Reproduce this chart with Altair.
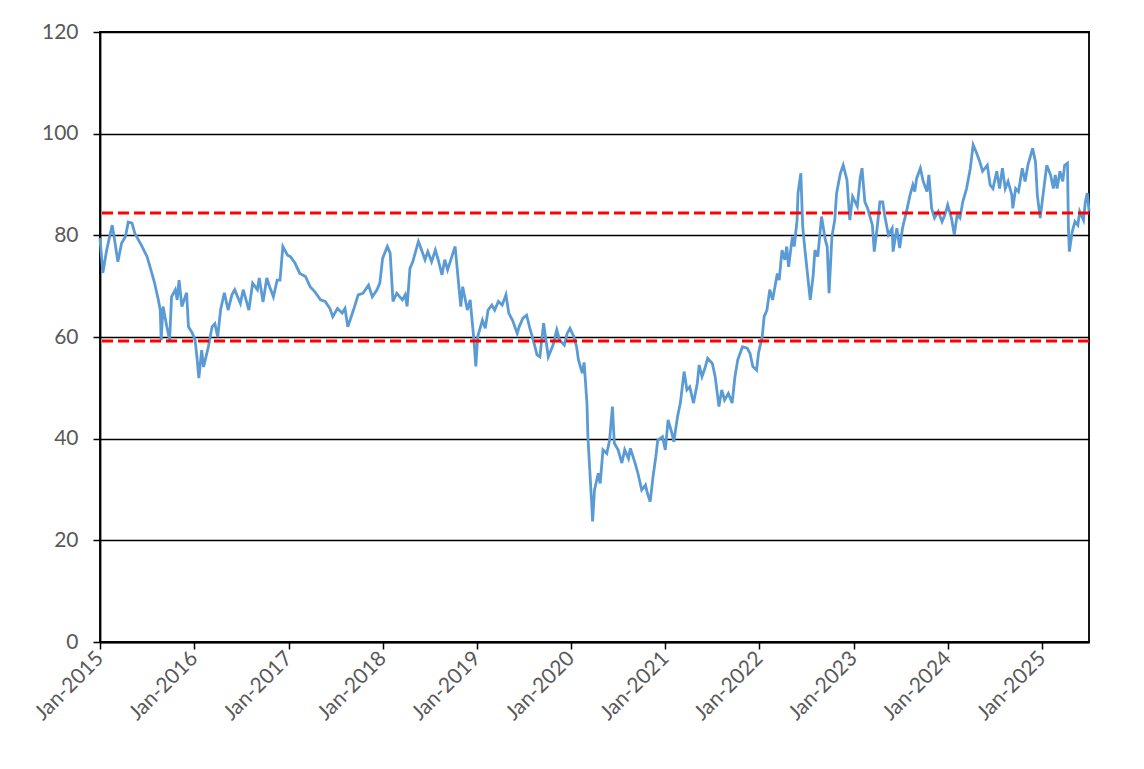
import altair as alt
import pandas as pd

# decimal-year positions and values
t = [2015.00, 2015.03, 2015.07, 2015.11, 2015.13, 2015.15, 2015.19, 2015.23, 2015.27, 2015.30,
     2015.34, 2015.37, 2015.45, 2015.50, 2015.55, 2015.58, 2015.62, 2015.64, 2015.65, 2015.67,
     2015.71, 2015.74, 2015.76, 2015.80, 2015.82, 2015.84, 2015.87, 2015.92, 2015.94, 2015.98,
     2016.01, 2016.03, 2016.05, 2016.08, 2016.10, 2016.15, 2016.19, 2016.22, 2016.25, 2016.28,
     2016.32, 2016.36, 2016.40, 2016.43, 2016.49, 2016.52, 2016.58,
     2016.62, 2016.67, 2016.69, 2016.73, 2016.77, 2016.80, 2016.84, 2016.88, 2016.91, 2016.94,
     2016.99, 2017.02, 2017.07, 2017.12, 2017.18, 2017.23, 2017.28, 2017.34, 2017.39, 2017.44,
     2017.47, 2017.52, 2017.57, 2017.60, 2017.63, 2017.69, 2017.74, 2017.79, 2017.85, 2017.89,
     2017.94, 2017.97, 2018.00, 2018.05, 2018.08, 2018.11, 2018.15, 2018.21, 2018.24, 2018.26,
     2018.29, 2018.32, 2018.38,
     2018.40, 2018.45, 2018.48, 2018.52, 2018.56, 2018.59, 2018.63, 2018.66, 2018.69, 2018.74,
     2018.77, 2018.80, 2018.83, 2018.85, 2018.90, 2018.93, 2018.95, 2018.97, 2018.99, 2019.01,
     2019.06, 2019.09, 2019.12, 2019.16, 2019.19, 2019.23, 2019.27, 2019.31, 2019.34, 2019.38,
     2019.43, 2019.45, 2019.49, 2019.53, 2019.56, 2019.60, 2019.64, 2019.67, 2019.71, 2019.76,
     2019.81, 2019.85, 2019.88, 2019.93, 2019.96, 2019.99, 2020.03, 2020.06, 2020.08, 2020.12,
     2020.14,
     2020.17, 2020.18, 2020.20, 2020.22, 2020.23, 2020.25, 2020.29, 2020.31, 2020.34, 2020.38,
     2020.41, 2020.44, 2020.46, 2020.50, 2020.54, 2020.57, 2020.61, 2020.63, 2020.68, 2020.71,
     2020.75, 2020.79, 2020.81, 2020.84, 2020.87, 2020.90, 2020.92, 2020.97, 2021.00, 2021.03,
     2021.07, 2021.09, 2021.13, 2021.16, 2021.20, 2021.23, 2021.26, 2021.30, 2021.34, 2021.36,
     2021.39, 2021.42, 2021.45, 2021.50, 2021.53,
     2021.57, 2021.60, 2021.63, 2021.67, 2021.71, 2021.74, 2021.77, 2021.82, 2021.87, 2021.90,
     2021.93, 2021.97, 2021.99, 2022.03, 2022.05, 2022.08, 2022.11, 2022.14, 2022.19, 2022.21,
     2022.24, 2022.27, 2022.29, 2022.31, 2022.35, 2022.37, 2022.40, 2022.41, 2022.44, 2022.46,
     2022.48, 2022.51, 2022.54, 2022.57, 2022.59, 2022.62, 2022.66, 2022.70, 2022.72, 2022.74,
     2022.77, 2022.80, 2022.82, 2022.86, 2022.89, 2022.93, 2022.96, 2022.99, 2023.04,
     2023.07, 2023.09, 2023.12, 2023.15, 2023.20, 2023.22, 2023.25, 2023.28, 2023.31, 2023.33,
     2023.37, 2023.41, 2023.42, 2023.46, 2023.49, 2023.52, 2023.57, 2023.60, 2023.63, 2023.65,
     2023.67, 2023.71, 2023.74, 2023.78, 2023.80, 2023.83, 2023.86, 2023.90, 2023.94, 2023.97,
     2024.00, 2024.04, 2024.07, 2024.10, 2024.13, 2024.16, 2024.20, 2024.24, 2024.27, 2024.30,
     2024.34, 2024.37, 2024.42, 2024.45, 2024.48, 2024.52, 2024.55, 2024.58, 2024.61, 2024.64,
     2024.68, 2024.69, 2024.72, 2024.75, 2024.79, 2024.82, 2024.85, 2024.88, 2024.90, 2024.93,
     2024.95, 2024.98, 2025.01, 2025.05, 2025.09, 2025.12, 2025.14, 2025.16, 2025.19, 2025.22,
     2025.24, 2025.27, 2025.28, 2025.29, 2025.32, 2025.35, 2025.38, 2025.40, 2025.44, 2025.46,
     2025.48, 2025.50]

v = [79.5, 72.6, 77.0, 80.4, 82.0, 79.7, 74.8, 78.5, 79.7, 82.6,
     82.4, 80.4, 77.7, 75.8, 72.6, 70.6, 67.3, 65.3, 59.4, 66.0,
     62.0, 59.4, 67.9, 69.3, 67.3, 71.2, 66.0, 68.7, 62.0, 60.8,
     59.4, 56.0, 51.9, 57.4, 54.1, 58.0, 62.0, 62.6, 60.0, 65.3,
     68.7, 65.3, 68.3, 69.3, 66.6, 69.3, 65.3,
     70.6, 69.3, 71.6, 66.9, 71.6, 69.9, 67.9, 71.2, 71.2, 77.8,
     76.1, 75.8, 74.5, 72.5, 71.9, 69.9, 68.9, 67.3, 67.0, 65.6,
     64.0, 65.6, 64.7, 65.6, 62.0, 65.3, 68.3, 68.6, 70.2, 67.9,
     69.3, 70.6, 75.5, 77.8, 76.5, 67.0, 68.6, 67.3, 68.3, 66.0,
     73.5, 74.8, 78.8,
     77.8, 75.2, 76.8, 74.8, 77.1, 75.2, 72.2, 75.2, 73.2, 76.1,
     77.8, 71.9, 66.0, 69.9, 65.3, 67.3, 63.3, 59.4, 54.2, 60.1,
     63.3, 61.7, 65.3, 66.3, 65.3, 67.0, 66.3, 68.3, 64.7, 63.3,
     60.7, 62.0, 63.7, 64.3, 62.0, 59.4, 56.5, 56.1, 62.7, 56.1,
     58.4, 61.4, 59.4, 58.4, 60.7, 61.7, 60.1, 58.1, 55.5, 52.9,
     55.0,
     47.0, 40.4, 33.8, 27.3, 23.7, 29.9, 33.2, 31.2, 37.8, 37.1,
     39.7, 46.3, 39.1, 37.8, 35.2, 37.8, 36.1, 38.1, 35.2, 33.2,
     29.9, 30.9, 29.3, 27.6, 32.5, 36.5, 39.7, 40.4, 37.8, 43.7,
     41.1, 39.4, 44.3, 47.0, 53.2, 49.6, 50.2, 47.0, 50.9, 54.5,
     52.2, 53.8, 55.8, 54.8, 52.2,
     46.3, 49.6, 47.6, 48.9, 47.0, 52.2, 55.5, 58.1, 57.8, 56.8,
     54.2, 53.5, 56.8, 60.1, 64.0, 65.3, 69.3, 67.3, 72.5, 71.2,
     77.1, 75.2, 77.8, 73.8, 79.7, 77.8, 83.0, 88.3, 92.2, 81.7,
     77.8, 72.5, 67.3, 71.9, 77.1, 75.8, 83.7, 79.1, 77.8, 68.6,
     79.7, 83.0, 88.3, 92.2, 93.8, 90.9, 83.0, 87.6, 85.7,
     91.2, 93.2, 86.6, 85.3, 82.0, 76.8, 81.4, 86.6, 86.6, 84.0,
     80.1, 81.4, 76.8, 81.4, 77.5, 81.4, 85.3, 87.9, 89.9, 88.6,
     91.2, 93.2, 90.6, 88.6, 91.9, 85.3, 83.4, 84.7, 82.7, 84.0,
     86.0, 83.4, 80.1, 84.0, 83.4, 86.6, 89.2, 93.2, 97.8, 96.5,
     94.5, 92.6, 93.8, 89.9, 89.2, 92.6, 89.2, 93.2, 89.2, 90.6,
     87.9, 85.3, 89.2, 88.6, 93.2, 90.6, 93.8, 95.8, 97.1, 94.5,
     87.9, 83.4, 87.9, 93.8, 91.9, 89.2, 91.9, 89.2, 92.6, 90.6,
     93.8, 94.2, 81.4, 76.8, 80.7, 82.7, 82.0, 84.7, 83.0, 86.6,
     88.3, 84.7]

band_values = [84.4, 59.2]
y_ticks = [0, 20, 40, 60, 80, 100, 120]
x_tick_years = list(range(2015, 2026))


def to_date(x):
    y = int(x)
    start = pd.Timestamp(year=y, month=1, day=1)
    end = pd.Timestamp(year=y + 1, month=1, day=1)
    return (start + (end - start) * (x - y)).strftime("%Y-%m-%dT%H:%M:%S")


df = pd.DataFrame({"date": [to_date(x) for x in t], "value": v})
bands = pd.DataFrame({"level": band_values})

FONT = "Lato"
LABEL_COLOR = "#595959"

x_enc = alt.X(
    "date:T",
    title=None,
    scale=alt.Scale(domain=[alt.DateTime(year=2015, month=1, date=1),
                            alt.DateTime(year=2025, month=7, date=2)]),
    axis=alt.Axis(
        values=[alt.DateTime(year=yr, month=1, date=1) for yr in x_tick_years],
        format="%b-%Y",
        labelAngle=-45,
        labelAlign="right",
        labelBaseline="middle",
        labelPadding=6,
        tickSize=7,
        tickColor="black",
        tickWidth=1.5,
        domainColor="black",
        domainWidth=1.8,
        grid=False,
        labelFont=FONT,
        labelFontSize=21,
        labelColor=LABEL_COLOR,
        labelOverlap=False,
    ),
)

y_enc = alt.Y(
    "value:Q",
    title=None,
    scale=alt.Scale(domain=[0, 120], nice=False),
    axis=alt.Axis(
        values=y_ticks,
        tickSize=7,
        tickColor="black",
        tickWidth=1.5,
        domainColor="black",
        domainWidth=1.8,
        grid=True,
        gridColor="black",
        gridWidth=1.5,
        labelPadding=15,
        labelFont=FONT,
        labelFontSize=21,
        labelColor=LABEL_COLOR,
    ),
)

line = alt.Chart(df).mark_line(color="#5B9BD5", strokeWidth=2.8).encode(x=x_enc, y=y_enc)

rules = alt.Chart(bands).mark_rule(
    color="#FF0000", strokeWidth=3, strokeDash=[11, 5]
).encode(y=alt.Y("level:Q", scale=alt.Scale(domain=[0, 120], nice=False)))

chart = (
    alt.layer(line, rules)
    .properties(
        width=989,
        height=610,
        autosize=alt.AutoSizeParams(type="none"),
        padding={"left": 92, "top": 24, "right": 40, "bottom": 110},
        background="white",
    )
    .configure_view(stroke="black", strokeWidth=1.8)
)

chart.save("out.html", embed_options={"renderer": "svg", "actions": False})
